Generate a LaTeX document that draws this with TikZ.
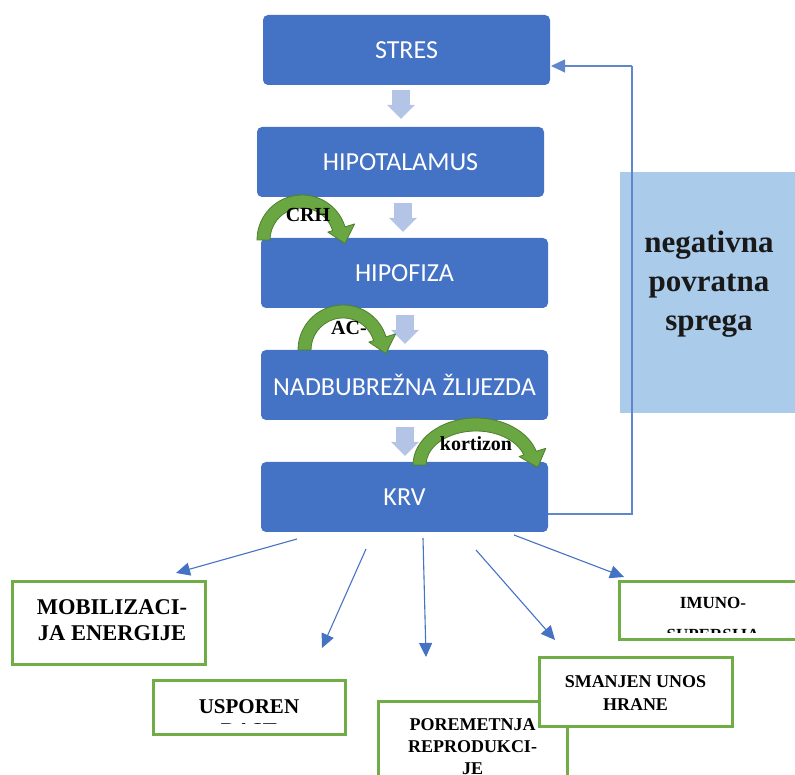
\documentclass[tikz,border=0pt]{standalone}
\usepackage{fontspec}
\setmainfont{Liberation Serif}
\newfontfamily\calfont{Carlito}
\usetikzlibrary{arrows.meta,calc}
\definecolor{bluebox}{HTML}{4472C4}
\definecolor{lightarr}{HTML}{B4C4E6}
\definecolor{fbbox}{HTML}{AACBE9}
\definecolor{gborder}{HTML}{70AD47}
\definecolor{gfill}{HTML}{6AA743}
\definecolor{gdark}{HTML}{4E7F2F}
\tikzset{
  bluenode/.style={fill=bluebox, rounded corners=5pt, minimum width=287pt, minimum height=70pt, inner sep=0pt, text=white, font=\calfont\fontsize{26}{30}\selectfont},
  greenbox/.style={draw=gborder, line width=3pt, fill=white, inner sep=0pt},
  gtext/.style={align=center, inner sep=0pt, text=black},
  lbl/.style={font=\bfseries\fontsize{20}{24}\selectfont, inner sep=0pt, text=black},
  blockarr/.style={draw=lightarr, line width=18pt, -{Triangle[length=14pt,width=28pt,line width=0pt]}},
  thinarr/.style={draw=bluebox, line width=1.1pt, -{Triangle[length=14pt,width=13pt]}},
  fbline/.style={draw=bluebox!85!white, line width=1.1pt},
  garc/.style={fill=gfill, draw=gdark, line width=0.8pt, line join=round}
}
\newcommand\greenarc[5]{%
  \pgfmathsetmacro\gcx{#1}\pgfmathsetmacro\gcy{#2}%
  \pgfmathsetmacro\gRx{#3}\pgfmathsetmacro\gRy{#4}\pgfmathsetmacro\gA{#5}%
  \pgfmathsetmacro\grx{\gRx-13}\pgfmathsetmacro\gry{\gRy-13}%
  \pgfmathsetmacro\gmx{\gRx-6.5}\pgfmathsetmacro\gmy{\gRy-6.5}%
  \pgfmathsetmacro\gtx{\gmx*sin(\gA)}\pgfmathsetmacro\gty{-\gmy*cos(\gA)}%
  \pgfmathsetmacro\gtn{veclen(\gtx,\gty)}%
  \pgfmathsetmacro\gTx{\gcx+(\gmx+1.5)*cos(\gA)+16*\gtx/\gtn}%
  \pgfmathsetmacro\gTy{\gcy+(\gmy+1.5)*sin(\gA)+16*\gty/\gtn}%
  \filldraw[garc] (\gcx-\gRx,\gcy) arc[start angle=180,end angle=\gA,x radius=\gRx pt,y radius=\gRy pt]
    -- ({\gcx+(\gRx+10)*cos(\gA)},{\gcy+(\gRy+10)*sin(\gA)})
    -- (\gTx,\gTy)
    -- ({\gcx+(\grx-5)*cos(\gA)},{\gcy+(\gry-5)*sin(\gA)})
    -- ({\gcx+\grx*cos(\gA)},{\gcy+\gry*sin(\gA)})
    arc[start angle=\gA,end angle=180,x radius=\grx pt,y radius=\gry pt] -- cycle;
}
\begin{document}
\begin{tikzpicture}[x=1pt,y=1pt]
\useasboundingbox (0,0) rectangle (795,775);
\clip (0,0) rectangle (795,775);

% feedback box
\node[fill=fbbox, minimum width=180pt, minimum height=241pt, inner sep=0pt, anchor=south west] (fbbox) at (620,362) {};
\node[gtext, font=\bfseries\fontsize{31}{39}\selectfont, text=black!90] (fbtext) at (709,491) {negativna\\povratna\\sprega};

% main chain
\node[bluenode] (stres) at (406.5,725) {STRES};
\node[bluenode] (hipo) at (400.5,613) {HIPOTALAMUS};
\node[bluenode] (hipof) at (404.5,502) {HIPOFIZA};
\node[bluenode] (nad) at (404.5,390) {NADBUBREŽNA ŽLIJEZDA};
\node[bluenode] (krv) at (404.5,278) {KRV};

% block arrows
\draw[blockarr] ($(stres.south)+(-5.5,-5)$) -- ($(hipo.north)+(0.5,8)$);
\draw[blockarr] ($(hipo.south)+(2.5,-6)$) -- ($(hipof.north)+(-1.5,6)$);
\draw[blockarr] ($(hipof.south)+(0.5,-7)$) -- ($(nad.north)+(0.5,6)$);
\draw[blockarr] ($(nad.south)+(0.5,-7)$) -- ($(krv.north)+(0.5,6)$);

% feedback loop
\coordinate (fbs) at (548,261);
\coordinate (fbc1) at (632,261);
\coordinate (fbc2) at (632,709);
\coordinate (fbe) at (551,709);
\draw[fbline] (fbs) -- (fbc1) -- (fbc2);
\draw[fbline, -{Triangle[length=14pt,width=13pt]}] (fbc2) -- (fbe);

% green curved arrows
\greenarc{302}{535}{45}{45}{17}
\greenarc{343}{425}{45}{45}{17}
\greenarc{476}{310}{63}{47}{17}
\node[lbl] (crh) at (308,560) {CRH};
\node[lbl] (acl) at (349,447) {AC-};
\node[lbl] (kort) at (476,331) {kortizon};

% arrows from KRV
\coordinate (a1s) at (297,236); \coordinate (a1e) at (176,202);
\coordinate (a2s) at (366,226); \coordinate (a2e) at (322,127);
\coordinate (a3s) at (423,237); \coordinate (a3e) at (426,118);
\coordinate (a4s) at (476,225); \coordinate (a4e) at (555,135);
\coordinate (a5s) at (514,240); \coordinate (a5e) at (624,198);
\draw[thinarr] (a1s) -- (a1e);
\draw[thinarr] (a2s) -- (a2e);
\draw[thinarr] (a3s) -- (a3e);
\draw[thinarr] (a4s) -- (a4e);
\draw[thinarr] (a5s) -- (a5e);

% effect boxes
\node[greenbox, minimum width=193pt, minimum height=83pt] (mob) at (108.5,151.5) {};
\node[gtext, font=\bfseries\fontsize{22.5}{26}\selectfont] (mobt) at (112,154.5) {MOBILIZACI-\\JA ENERGIJE};

\node[greenbox, minimum width=192pt, minimum height=54pt] (usp) at (249,67) {};
\begin{scope}
  \clip (153,51) rectangle (345,94);
  \node[gtext, font=\bfseries\fontsize{21}{24}\selectfont] (uspt) at (249,56) {USPOREN\\RAST};
\end{scope}

\node[greenbox, minimum width=189pt, minimum height=103pt] (por) at (472.5,21.5) {};
\node[gtext, font=\bfseries\fontsize{18}{22}\selectfont] (port) at (472.5,28) {POREMETNJA\\REPRODUKCI-\\JE};

\node[greenbox, minimum width=193pt, minimum height=69pt] (sma) at (635.5,82.5) {};
\node[gtext, font=\bfseries\fontsize{18}{23}\selectfont] (smat) at (635.5,81.5) {SMANJEN UNOS\\HRANE};

\node[greenbox, minimum width=188pt, minimum height=58pt] (imu) at (713,164) {};
\begin{scope}
  \clip (619,142) rectangle (800,193);
  \node[gtext, font=\bfseries\fontsize{17}{32}\selectfont] (imut) at (713,156) {IMUNO-\\SUPERSIJA};
\end{scope}
\end{tikzpicture}
\end{document}
